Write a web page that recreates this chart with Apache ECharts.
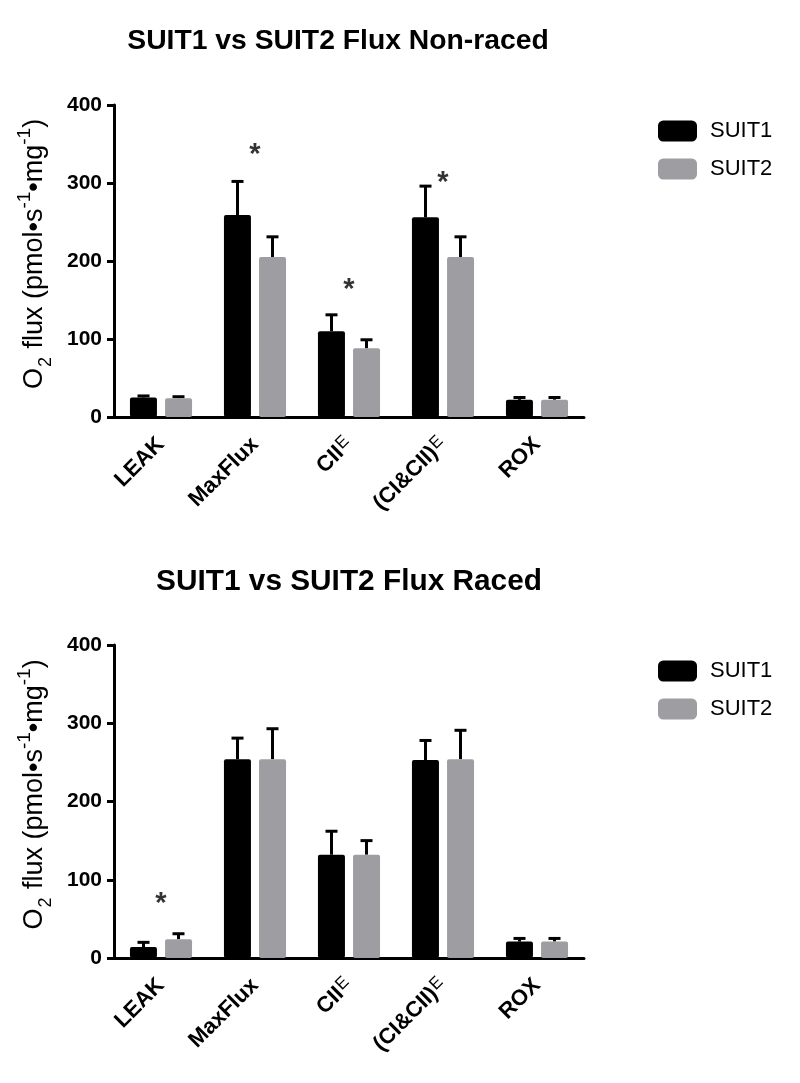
<!DOCTYPE html>
<html><head><meta charset="utf-8">
<script src="https://cdn.jsdelivr.net/npm/echarts@6/dist/echarts.min.js"></script>
<style>html,body{margin:0;padding:0;background:#fff}#c{width:800px;height:1083px}</style>
</head><body><div id="c"></div>
<script>
const categories = ['LEAK', 'MaxFlux', 'CII{e|E}', '(CI&CII){e|E}', 'ROX'];
const titles = ['SUIT1 vs SUIT2 Flux Non-raced', 'SUIT1 vs SUIT2 Flux Raced'];
const yTicks = [0, 100, 200, 300, 400];
const yName = 'O{sub|2} flux (pmol•s{sup|-1}•mg{sup|-1})';
// Non-raced
const nonSuit1 = [25, 259, 110, 256, 22];
const nonSuit1Err = [2, 43, 21, 40, 3];
const nonSuit2 = [24, 205, 88, 205, 22];
const nonSuit2Err = [2, 26, 11, 26, 3];
const nonStars = [[1, 345], [2, 172], [3, 309]];
// Raced
const racSuit1 = [14, 254, 132, 253, 21];
const racSuit1Err = [6, 27, 30, 25, 4];
const racSuit2 = [24, 254, 132, 254, 21];
const racSuit2Err = [7, 39, 18, 37, 4];
const racStars = [[0, 78]];

const BLACK = '#000000', GRAY = '#9e9ea2';
const BAR_W = 27, OFFSET = 17.5;
const grids = [{left: 114, width: 470, top: 105, height: 312}, {left: 114, width: 470, top: 645, height: 313}];

function errSeries(gi, name, vals, errs, dir) {
  return {
    type: 'custom', name: name, xAxisIndex: gi, yAxisIndex: gi, z: 1,
    data: vals.map((v, i) => [i, v, v + errs[i]]),
    renderItem: function (params, api) {
      const p0 = api.coord([api.value(0), api.value(1)]);
      const p1 = api.coord([api.value(0), api.value(2)]);
      const x = p0[0] + dir * OFFSET;
      return {type: 'group', children: [
        {type: 'line', shape: {x1: x, y1: p0[1], x2: x, y2: p1[1]}, style: {stroke: '#000', lineWidth: 3}},
        {type: 'line', shape: {x1: x - 6, y1: p1[1], x2: x + 6, y2: p1[1]}, style: {stroke: '#000', lineWidth: 3}}
      ]};
    }
  };
}
function barSeries(gi, name, vals, color) {
  return {type: 'bar', name: name, xAxisIndex: gi, yAxisIndex: gi, data: vals, barWidth: BAR_W, barGap: '30%', z: 2,
    itemStyle: {color: color, borderRadius: 2}};
}
function starSeries(gi, stars) {
  return {type: 'scatter', xAxisIndex: gi, yAxisIndex: gi, data: stars, symbolSize: 1, itemStyle: {color: 'rgba(0,0,0,0)'},
    label: {show: true, position: 'inside', formatter: '*', fontSize: 29, fontWeight: 'bold', color: '#000', fontFamily: 'Liberation Sans', offset: [0, 7]}, silent: true};
}
const axisFont = {fontFamily: 'Liberation Sans', fontWeight: 'bold', color: '#000'};
const chart = echarts.init(document.getElementById('c'));
chart.setOption({
  animation: false,
  title: titles.map((t, i) => ({text: t, left: i === 0 ? 333 : 344, textAlign: 'center', top: i === 0 ? 22 : 562,
    textStyle: {fontFamily: 'Liberation Sans', fontWeight: 'bold', fontSize: i === 0 ? 28.3 : 29.8, color: '#000'}})),
  legend: [0, 1].map(i => ({data: ['SUIT1', 'SUIT2'], orient: 'vertical', left: 653, top: i === 0 ? 115 : 655,
    itemWidth: 39, itemHeight: 21, itemGap: 16, icon: 'roundRect',
    textStyle: {fontFamily: 'Liberation Sans', fontSize: 22, color: '#000', padding: [0, 0, 0, 8]}})),
  grid: grids,
  xAxis: [0, 1].map(i => ({type: 'category', gridIndex: i, data: categories,
    axisLine: {lineStyle: {color: '#000', width: 3}},
    axisTick: {alignWithLabel: true, length: 7, lineStyle: {color: '#000', width: 3}},
    axisLabel: Object.assign({rotate: 45, fontSize: 22, margin: 24, interval: 0,
      rich: {e: {fontSize: 17, fontWeight: 'normal', fontFamily: 'Liberation Sans', color: '#000', padding: [0, 0, 7, 1]}}}, axisFont)})),
  yAxis: [0, 1].map(i => ({type: 'value', gridIndex: i, min: yTicks[0], max: yTicks[yTicks.length - 1], interval: 100,
    name: yName, nameLocation: 'middle', nameGap: 59, nameRotate: 90,
    nameTextStyle: {fontFamily: 'Liberation Sans', fontSize: 27, color: '#000', lineHeight: 30, padding: [0, 0, 0, 14],
      rich: {sub: {fontSize: 18, verticalAlign: 'bottom', lineHeight: 22, padding: [0, 1, 0, 1]},
             sup: {fontSize: 19, verticalAlign: 'top', lineHeight: 40}}},
    splitLine: {show: false},
    axisLine: {show: true, lineStyle: {color: '#000', width: 3}},
    axisTick: {show: true, length: 7, lineStyle: {color: '#000', width: 3}},
    axisLabel: Object.assign({fontSize: 21, margin: 12}, axisFont)})),
  series: [
    barSeries(0, 'SUIT1', nonSuit1, BLACK), barSeries(0, 'SUIT2', nonSuit2, GRAY),
    errSeries(0, 'SUIT1', nonSuit1, nonSuit1Err, -1), errSeries(0, 'SUIT2', nonSuit2, nonSuit2Err, 1),
    starSeries(0, nonStars),
    barSeries(1, 'SUIT1', racSuit1, BLACK), barSeries(1, 'SUIT2', racSuit2, GRAY),
    errSeries(1, 'SUIT1', racSuit1, racSuit1Err, -1), errSeries(1, 'SUIT2', racSuit2, racSuit2Err, 1),
    starSeries(1, racStars)
  ]
});
</script></body></html>
